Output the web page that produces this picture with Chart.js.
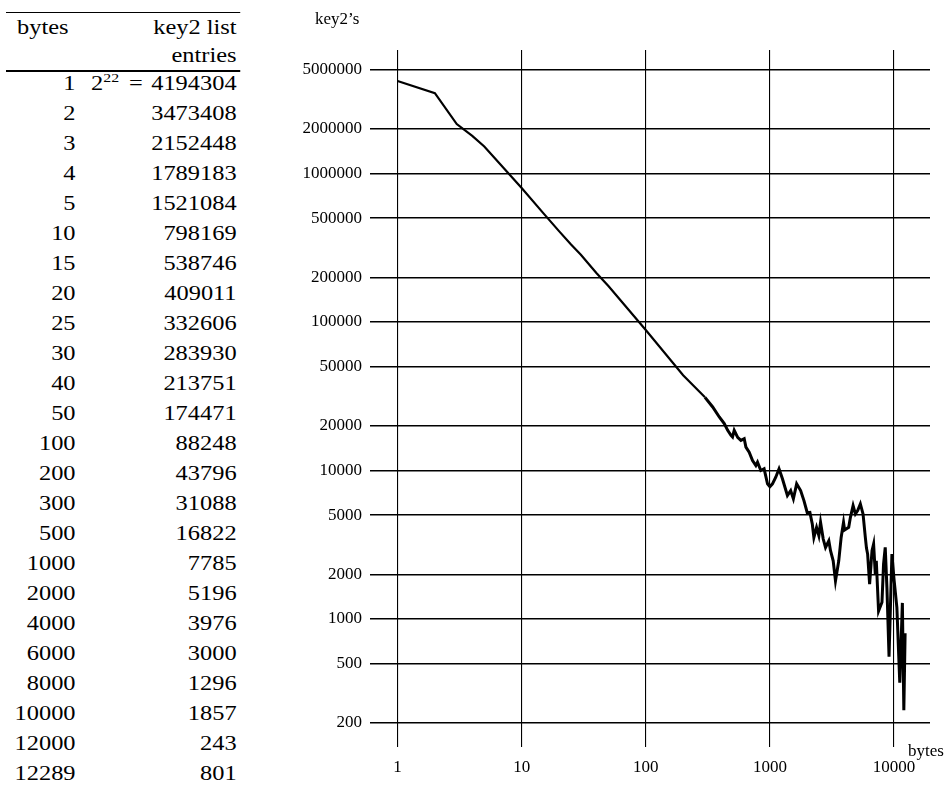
<!DOCTYPE html>
<html>
<head>
<meta charset="utf-8">
<script src="https://cdn.jsdelivr.net/npm/chart.js@4.4.0/dist/chart.umd.min.js"></script>
<style>
    body { margin: 0; background: #fff; width: 944px; height: 789px; overflow: hidden; position: relative;
           font-family: 'Liberation Serif', serif; color: #000; }
    #tbl { position: absolute; left: 6px; top: 0; width: 192px; height: 789px;
           transform: scaleX(1.22); transform-origin: 0 0; font-size: 20px; line-height: 20px; }
    .rule { position: absolute; left: 0; width: 192px; background: #000; }
    .row { position: absolute; left: 0; width: 192px; height: 20px; white-space: nowrap; }
    .c1 { position: absolute; right: 135px; text-align: right; }
    .c1h { position: absolute; left: 9px; }
    .c2 { position: absolute; right: 3px; text-align: right; }
    .c2 sup { font-size: 13px; line-height: 0; vertical-align: 8px; }
    .eq { display: inline-block; margin: 0 7px 0 8px; }
    #chartBox { position: absolute; left: 280px; top: 0; }
    .lbl { position: absolute; font-size: 17px; white-space: nowrap; }
</style>
</head>
<body>
<div id="tbl"></div>
<div id="chartBox"><canvas id="keyChart" width="664" height="789"></canvas></div>
<div class="lbl" style="left:315px; top:9px;">key2’s</div>
<div class="lbl" style="left:908px; top:741px;">bytes</div>

<script>
// values from the table
var tableBytes = [1, 2, 3, 4, 5, 10, 15, 20, 25, 30, 40, 50, 100, 200, 300, 500,
                  1000, 2000, 4000, 6000, 8000, 10000, 12000, 12289];
var tableEntries = [4194304, 3473408, 2152448, 1789183, 1521084, 798169, 538746, 409011,
                    332606, 283930, 213751, 174471, 88248, 43796, 31088, 16822,
                    7785, 5196, 3976, 3000, 1296, 1857, 243, 801];

// extra points (noisy part)
var traceBytes = [346, 391, 429, 457, 486, 516, 550, 584, 621, 641, 681, 725, 771, 795, 845, 898, 957,
                  1049, 1115, 1185, 1262, 1384, 1471, 1546, 1643, 1769, 1881,
                  2101, 2196, 2262, 2377, 2481, 2560, 2690, 2807, 2984, 3080, 3236, 3377, 3588, 3751, 3920,
                  4316, 4455, 4682, 4886, 5097, 5357, 5630, 5875,
                  6131, 6361, 6650, 6850, 7068, 7200, 7510,
                  8237, 8498, 8770, 9120, 9621, 10550, 11130, 11680];
var traceEntries = [26780, 22920, 20680, 18640, 17240, 18640, 16710, 15950, 16380, 14370, 13290, 11680, 10810, 11380, 10000, 10270, 8130,
                    8130, 9010, 10270, 8790, 6780, 7325, 6440, 8130, 7325, 6270,
                    5226, 4364, 3542, 4140, 3637, 4475, 3455, 3033, 3365, 2881, 2466, 1806, 2466, 3542, 4475,
                    4140, 4836, 5800, 5098, 5366, 5957, 5098, 3542,
                    2736, 1716, 2881, 3197, 2005, 2466, 1132,
                    2343, 3033, 1627, 558, 2736, 1192, 372, 1283];

var xTicks = [1, 10, 100, 1000, 10000];
var yTicks = [200, 500, 1000, 2000, 5000, 10000, 20000, 50000, 100000, 200000, 500000, 1000000, 2000000, 5000000];

// ---- table on the left ----
var tbl = document.getElementById('tbl');
function addRule(top, h) {
    var r = document.createElement('div');
    r.className = 'rule';
    r.style.top = top + 'px';
    r.style.height = h + 'px';
    tbl.appendChild(r);
}
function addRow(top, left, right, headLeft) {
    var row = document.createElement('div');
    row.className = 'row';
    row.style.top = top + 'px';
    row.innerHTML = '<span class="' + (headLeft ? 'c1h' : 'c1') + '">' + left + '</span>' +
                    '<span class="c2">' + right + '</span>';
    tbl.appendChild(row);
}
addRule(11.5, 1.3);
addRow(16.6, 'bytes', 'key2 list', true);
addRow(45, '', 'entries', true);
addRule(69.8, 2);
tableBytes.forEach(function(b, i) {
    var top = 89.3 + i * 30.0 - 16.75;
    var txt = String(tableEntries[i]);
    if (i === 0) txt = '2<sup>22</sup><span class="eq">=</span>' + txt;
    addRow(top, String(b), txt, false);
});

// ---- chart ----
var pts = [];
tableBytes.forEach(function(b, i) { pts.push({ x: b, y: tableEntries[i] }); });
traceBytes.forEach(function(b, i) { pts.push({ x: b, y: traceEntries[i] }); });
pts.sort(function(a, b) { return a.x - b.x; });

var tickFont = { family: 'Liberation Serif', size: 17 };
var ctx = document.getElementById('keyChart').getContext('2d');
var keyChart = new Chart(ctx, {
    type: 'line',
    data: {
        datasets: [{
            data: pts,
            borderColor: '#000',
            borderWidth: 2.2,
            pointRadius: 0,
            tension: 0,
            fill: false,
            // the noisy tail is drawn heavier in the original
            segment: { borderWidth: function(c) { return c.p0.parsed.x >= 300 ? 3 : 2.2; } }
        }]
    },
    options: {
        responsive: false,
        animation: false,
        layout: { padding: { left: 0, right: 14, top: 50, bottom: 0 } },
        plugins: { legend: { display: false }, tooltip: { enabled: false } },
        scales: {
            x: {
                type: 'logarithmic',
                min: 0.63,
                max: 19500,
                afterBuildTicks: function(s) { s.ticks = xTicks.map(function(v) { return { value: v }; }); },
                afterFit: function(s) { s.height = 42; },
                grid: { color: '#000', lineWidth: 1.1, drawTicks: false },
                border: { display: false },
                ticks: { color: '#000', font: tickFont, padding: 10, maxRotation: 0, autoSkip: false,
                         callback: function(v) { return String(v); } }
            },
            y: {
                type: 'logarithmic',
                min: 137.4,
                max: 6785000,
                afterBuildTicks: function(s) { s.ticks = yTicks.map(function(v) { return { value: v }; }); },
                afterFit: function(s) { s.width = 90; },
                grid: { color: '#000', lineWidth: 1.4, drawTicks: false },
                border: { display: false },
                ticks: { color: '#000', font: tickFont, padding: 8, autoSkip: false,
                         callback: function(v) { return String(v); } }
            }
        }
    }
});
</script>
</body>
</html>
